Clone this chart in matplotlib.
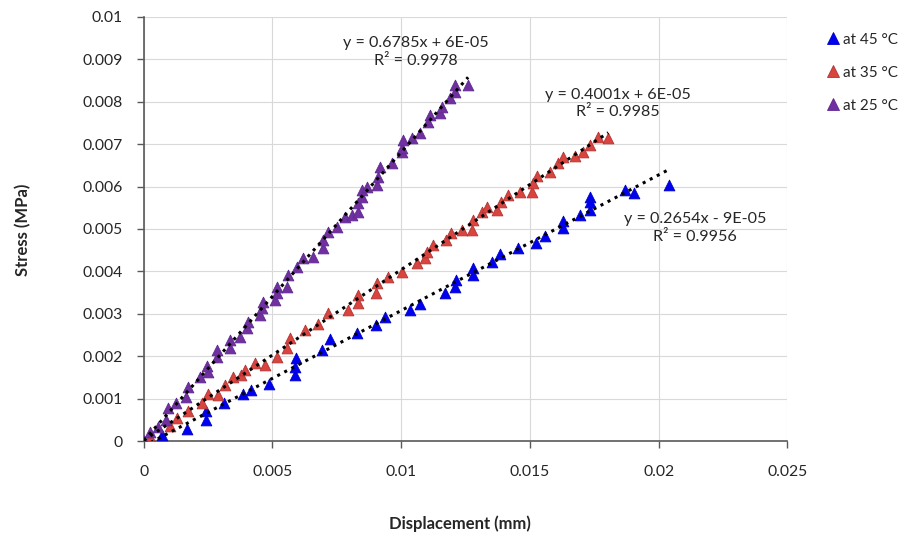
import numpy as np
import matplotlib
matplotlib.use("Agg")
import matplotlib.pyplot as plt
from matplotlib.lines import Line2D

plt.rcParams['font.family'] = ['Lato', 'DejaVu Sans']

# data (displacement mm, stress MPa)
x45 = [0, 0.0007, 0.00167, 0.00241, 0.00241, 0.00311, 0.00385, 0.00416, 0.00486, 0.00587,
       0.00587, 0.00591, 0.00692, 0.00723, 0.00828, 0.00902, 0.00937, 0.01034, 0.01073, 0.0117,
       0.01209, 0.01213, 0.01279, 0.01279, 0.01353, 0.01384, 0.01454, 0.01524, 0.01559, 0.01629,
       0.01629, 0.01695, 0.01734, 0.01734, 0.01734, 0.0187, 0.01905, 0.02041]
y45 = [0, 0.00014, 0.00028, 0.000495, 0.00071, 0.0009, 0.00111, 0.0012, 0.00134, 0.00156,
       0.00174, 0.00196, 0.00215, 0.0024, 0.00255, 0.00274, 0.00292, 0.00309, 0.00323, 0.00349,
       0.00363, 0.0038, 0.00391, 0.00408, 0.00422, 0.00441, 0.00455, 0.00467, 0.00483, 0.00502,
       0.00519, 0.00533, 0.00545, 0.00564, 0.00575, 0.00592, 0.00585, 0.00604]

x35 = [0, 0.00023, 0.00101, 0.00128, 0.00171, 0.00226, 0.00249, 0.00288, 0.00315, 0.00346,
       0.00377, 0.00393, 0.00432, 0.0047, 0.00517, 0.00556, 0.00568, 0.00626, 0.00677, 0.00715,
       0.00793, 0.00832, 0.00832, 0.00902, 0.00906, 0.00949, 0.01003, 0.01061, 0.01093, 0.011,
       0.01124, 0.01174, 0.01194, 0.01236, 0.01275, 0.01279, 0.01314, 0.01334, 0.01372, 0.01388,
       0.01415, 0.01462, 0.01509, 0.01512, 0.01528, 0.01579, 0.0161, 0.01629, 0.01676, 0.01707,
       0.01734, 0.01765, 0.01804]
y35 = [0, 0.00009, 0.00035, 0.00054, 0.00071, 0.0009, 0.00111, 0.00108, 0.00132, 0.00151,
       0.00156, 0.00167, 0.00184, 0.00179, 0.00198, 0.00219, 0.00243, 0.00262, 0.00276, 0.00302,
       0.00309, 0.00325, 0.00344, 0.00349, 0.00373, 0.00387, 0.00399, 0.0042, 0.00432, 0.00446,
       0.00462, 0.00474, 0.00491, 0.00498, 0.00498, 0.00521, 0.0054, 0.00552, 0.00545, 0.00564,
       0.0058, 0.00587, 0.00587, 0.00608, 0.00625, 0.00634, 0.00656, 0.0067, 0.00672, 0.00682,
       0.00698, 0.00717, 0.00715]

x25 = [0, 0.00023, 0.00054, 0.00086, 0.00093, 0.00124, 0.00163, 0.00171, 0.00218, 0.00249,
       0.00245, 0.00284, 0.00284, 0.00334, 0.00334, 0.00373, 0.004, 0.00404, 0.00451, 0.00459,
       0.00463, 0.00509, 0.00517, 0.00517, 0.00556, 0.0056, 0.00595, 0.00618, 0.00657, 0.00696,
       0.00696, 0.00715, 0.0075, 0.00781, 0.00809, 0.00832, 0.00832, 0.00848, 0.00848, 0.00867,
       0.00906, 0.0091, 0.00918, 0.00964, 0.01003, 0.01003, 0.01007, 0.01042, 0.01073, 0.01104,
       0.01112, 0.01151, 0.01159, 0.0119, 0.01209, 0.01209, 0.0126]
y25 = [0, 0.00021, 0.00033, 0.0005, 0.00078, 0.0009, 0.00104, 0.00127, 0.00151, 0.00163,
       0.00177, 0.00198, 0.00215, 0.00219, 0.00238, 0.00245, 0.00267, 0.00281, 0.00297, 0.00314,
       0.00328, 0.00333, 0.00349, 0.00363, 0.00363, 0.00392, 0.0041, 0.00432, 0.00434, 0.00455,
       0.00474, 0.00493, 0.00505, 0.00528, 0.00533, 0.0054, 0.00561, 0.00575, 0.00592, 0.00599,
       0.00604, 0.00623, 0.00646, 0.00656, 0.00682, 0.00691, 0.0071, 0.00715, 0.00726, 0.00752,
       0.00769, 0.00774, 0.00788, 0.00809, 0.00823, 0.0084, 0.0084]

labels = ["at 45 °C", "at 35 °C", "at 25 °C"]
eqs = ["y = 0.2654x - 9E-05\nR² = 0.9956",
       "y = 0.4001x + 6E-05\nR² = 0.9985",
       "y = 0.6785x + 6E-05\nR² = 0.9978"]

xticks = [0, 0.005, 0.01, 0.015, 0.02, 0.025]
xticklabels = ["0", "0.005", "0.01", "0.015", "0.02", "0.025"]
yticks = [0, 0.001, 0.002, 0.003, 0.004, 0.005, 0.006, 0.007, 0.008, 0.009, 0.01]
yticklabels = ["0", "0.001", "0.002", "0.003", "0.004", "0.005", "0.006", "0.007", "0.008", "0.009", "0.01"]

fig = plt.figure(figsize=(9.04, 5.4), dpi=100)
ax = fig.add_axes([0.159, 0.183, 0.712, 0.786])

face = ['#0000F0', '#D9443F', '#7030A0']
edge = ['#0000C8', '#B03432', '#5E2890']
eq_pos = [(0.02142, 0.00502), (0.01843, 0.00795), (0.01058, 0.00917)]

series = [(x45, y45), (x35, y35), (x25, y25)]
for i, (xs, ys) in enumerate(series):
    xs = np.array(xs)
    ys = np.array(ys)
    ax.scatter(xs, ys, marker='^', s=60, color=face[i], edgecolors=edge[i],
               linewidths=0.6, zorder=3)
    # linear trendline like excel
    m, b = np.polyfit(xs, ys, 1)
    xl = np.array([0, xs.max()])
    ax.plot(xl, m * xl + b, color='black', linestyle=(0, (1, 1.6)), linewidth=2.2, zorder=4)
    ax.text(eq_pos[i][0], eq_pos[i][1], eqs[i], ha='center', va='center',
            fontsize=11.6, color='#262626', linespacing=1.3, zorder=5)

ax.set_xlim(0, 0.025)
ax.set_ylim(0, 0.01)
ax.set_xticks(xticks)
ax.set_xticklabels(xticklabels)
ax.set_yticks(yticks)
ax.set_yticklabels(yticklabels)
ax.tick_params(axis='both', labelsize=11.3, labelcolor='#262626', color='#595959',
               length=5, width=1)
ax.tick_params(axis='x', pad=12)
ax.tick_params(axis='y', pad=10)

ax.grid(True, color='#D9D9D9', linewidth=0.8)
ax.set_axisbelow(True)
ax.spines['top'].set_visible(False)
ax.spines['right'].set_visible(False)
ax.spines['left'].set_color('#595959')
ax.spines['bottom'].set_color('#595959')
ax.spines['left'].set_linewidth(1.2)
ax.spines['bottom'].set_linewidth(1.2)

fig.text(0.509, 0.03, "Displacement (mm)", ha='center', va='center',
         fontsize=12, fontweight='bold', color='#262626')
fig.text(0.026, 0.575, "Stress (MPa)", ha='center', va='center', rotation=90,
         fontsize=12, fontweight='bold', color='#262626')

handles = [Line2D([], [], marker='^', linestyle='none', markersize=8,
                  markerfacecolor=face[i], markeredgecolor=edge[i], markeredgewidth=0.6)
           for i in range(3)]
fig.legend(handles, labels, loc='upper left', bbox_to_anchor=(0.899, 0.965),
           frameon=False, fontsize=11, handlelength=0.8, handletextpad=0.3,
           labelspacing=1.25, labelcolor='#262626')

plt.savefig("out.png", dpi=100)
